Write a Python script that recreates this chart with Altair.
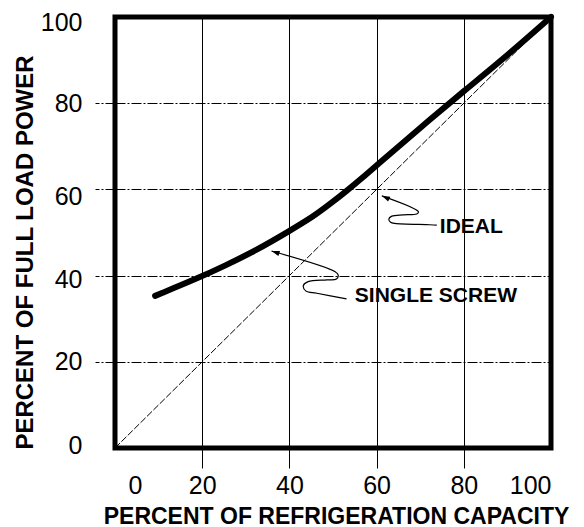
import altair as alt
import pandas as pd

# Single screw curve (percent capacity vs percent full load power)
screw_x = [9.2, 19.5, 24.8, 32.5, 40.1, 45.5, 49.3, 53.1, 57, 60, 70, 80, 90.6, 100]
screw_y = [35.3, 39.6, 42.1, 45.9, 50.4, 53.7, 56.6, 59.6, 62.9, 65.6, 74.3, 82.8, 91.6, 100]

# Ideal line
ideal_x = [0, 100]
ideal_y = [0, 100]

ticks = [0, 20, 40, 60, 80, 100]

# Annotation leader lines (data coordinates)
lead_ideal_x = [61.2, 69.6, 69.2, 66.1, 63.5, 62.8, 63.2, 64.2, 72.2, 73.8]
lead_ideal_y = [58.5, 54.8, 54.3, 54.1, 53.8, 53.1, 52.4, 52.1, 51.8, 51.7]
lead_screw_x = [35.9, 50.5, 51.2, 50.8, 48.6, 44.3, 43.2, 43.8, 46.3, 53.1]
lead_screw_y = [45.7, 40.9, 40.1, 39.2, 39.0, 38.6, 37.7, 36.4, 35.9, 34.6]

label_text = ["IDEAL", "SINGLE SCREW"]
label_x = [74.5, 55.0]
label_y = [51.3, 35.3]

FONT = "Liberation Sans"

screw_df = pd.DataFrame({"x": screw_x, "y": screw_y})
ideal_df = pd.DataFrame({"x": ideal_x, "y": ideal_y})
lead_df = pd.concat([
    pd.DataFrame({"x": lead_ideal_x, "y": lead_ideal_y, "i": range(len(lead_ideal_x)), "g": "ideal"}),
    pd.DataFrame({"x": lead_screw_x, "y": lead_screw_y, "i": range(len(lead_screw_x)), "g": "screw"}),
])
label_df = pd.DataFrame({"t": label_text, "x": label_x, "y": label_y})

xscale = alt.Scale(domain=[0, 100], nice=False, zero=False)
yscale = alt.Scale(domain=[0, 100], nice=False, zero=False)

x_axis = alt.Axis(
    values=ticks, grid=True, gridColor="black", gridWidth=1, gridOpacity=1,
    domain=False, ticks=True, tickSize=20, tickColor="black", tickWidth=1,
    tickOpacity={"expr": "datum.value == 0 || datum.value == 100 ? 0 : 1"},
    labelFont=FONT, labelFontSize=25, labelColor="black", labelPadding=5,
    labelOffset={"expr": "datum.value == 0 ? 13 : 0"},
    title="PERCENT OF REFRIGERATION CAPACITY", titleFont=FONT, titleFontSize=23,
    titleFontWeight="bold", titleColor="black", titleX=221, titleY=75,
    titleBaseline="alphabetic", titleAlign="center",
)
y_axis = alt.Axis(
    values=ticks, grid=True, gridColor="black", gridWidth=1, gridOpacity=1,
    gridDash=[10, 2, 2, 2], domain=False, ticks=True, tickSize=20,
    tickColor="black", tickWidth=1, tickDash=[10, 2, 2, 2],
    tickOpacity={"expr": "datum.value == 0 || datum.value == 100 ? 0 : 1"},
    labelFont=FONT, labelFontSize=25, labelColor="black", labelPadding=13,
    labelOffset={"expr": "datum.value == 100 ? 5 : datum.value == 60 ? 7 : datum.value == 40 ? 4 : datum.value == 0 ? -3 : 0"},
    title="PERCENT OF FULL LOAD POWER", titleFont=FONT, titleFontSize=24,
    titleFontWeight="bold", titleColor="black", titleX=-90, titleY=235,
    titleAngle=270, titleBaseline="middle", titleAlign="center",
)

ideal = alt.Chart(ideal_df).mark_line(color="black", strokeWidth=1, strokeDash=[7, 2]).encode(
    x=alt.X("x:Q", scale=xscale, axis=x_axis),
    y=alt.Y("y:Q", scale=yscale, axis=y_axis),
)

screw = alt.Chart(screw_df).mark_line(color="black", strokeWidth=6, interpolate="basis",
                                      strokeCap="round").encode(
    x="x:Q", y="y:Q"
)

leaders = alt.Chart(lead_df).mark_line(color="black", strokeWidth=1.2, interpolate="catmull-rom").encode(
    x="x:Q", y="y:Q", order="i:Q", detail="g:N"
)

arrow_path = "M0,-1L0.6,0.8L-0.6,0.8Z"
arrow1 = alt.Chart(pd.DataFrame({"x": [lead_ideal_x[0]], "y": [lead_ideal_y[0]]})).mark_point(
    shape=arrow_path, filled=True, color="black", opacity=1, size=81, angle=294,
    xOffset=4.1, yOffset=1.8,
).encode(x="x:Q", y="y:Q")
arrow2 = alt.Chart(pd.DataFrame({"x": [lead_screw_x[0]], "y": [lead_screw_y[0]]})).mark_point(
    shape=arrow_path, filled=True, color="black", opacity=1, size=81, angle=288,
    xOffset=4.3, yOffset=1.4,
).encode(x="x:Q", y="y:Q")

labels = alt.Chart(label_df).mark_text(
    align="left", baseline="middle", font=FONT, fontSize=21, fontWeight="bold", color="black"
).encode(x="x:Q", y="y:Q", text="t:N")

chart = alt.layer(ideal, screw, leaders, arrow1, arrow2, labels).properties(
    width=436, height=431,
    autosize=alt.AutoSizeParams(type="none"),
    padding={"left": 107, "top": 9, "right": 25, "bottom": 79},
).configure(background="white").configure_view(stroke="black", strokeWidth=5)

chart.save("out.html", embed_options={"renderer": "svg", "actions": False})
